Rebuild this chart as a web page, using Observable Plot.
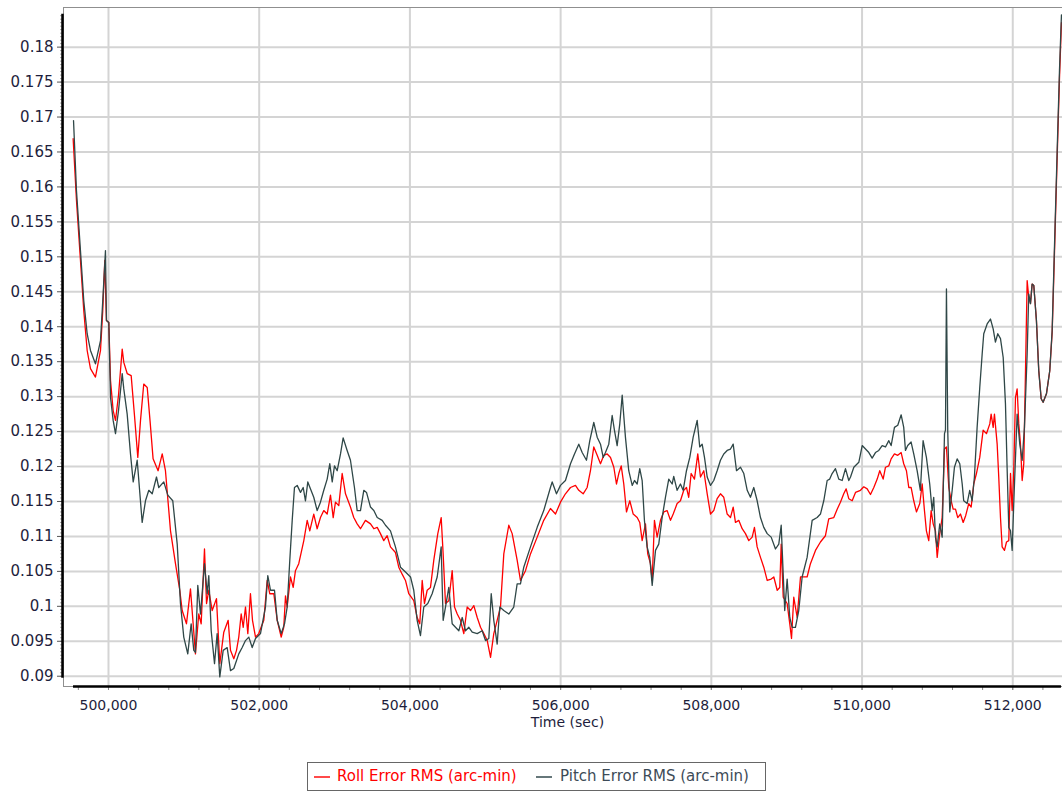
<!DOCTYPE html>
<html><head><meta charset="utf-8">
<script src="https://cdn.jsdelivr.net/npm/d3@7"></script>
<script src="https://cdn.jsdelivr.net/npm/@observablehq/plot@0.6"></script>
<style>
body{margin:0;background:#fff;font-family:"DejaVu Sans",sans-serif;}
#chart svg{display:block}
.legend{position:absolute;left:307px;top:762px;width:457px;height:27px;border:1.5px solid #666;font-size:15px;}
.legend .sw{position:absolute;top:13px;width:16px;height:2px;}
.legend .lb{position:absolute;top:4px;white-space:nowrap;}
</style></head><body>
<div id="chart"></div>
<div class="legend">
  <div class="sw" style="left:6px;background:#ff4a4a"></div><div class="lb" style="left:29px;color:#ff0000">Roll Error RMS (arc-min)</div>
  <div class="sw" style="left:228px;background:#66777a"></div><div class="lb" style="left:252px;color:#3d4b57">Pitch Error RMS (arc-min)</div>
</div>
<script>
const rollSeries = [[499531,0.1669],[499575,0.1581],[499628,0.1495],[499672,0.1423],[499717,0.1366],[499761,0.1340],[499827,0.1328],[499894,0.1366],[499924,0.1423],[499951,0.1495],[499973,0.1409],[500004,0.1406],[500027,0.1323],[500062,0.1280],[500093,0.1266],[500133,0.1302],[500182,0.1368],[500203,0.1349],[500248,0.1333],[500301,0.1330],[500345,0.1273],[500389,0.1213],[500425,0.1266],[500468,0.1318],[500514,0.1313],[500551,0.1266],[500592,0.1211],[500658,0.1194],[500713,0.1218],[500756,0.1194],[500823,0.1108],[500889,0.1061],[500946,0.1023],[500978,0.0994],[501035,0.0975],[501088,0.1025],[501154,0.0932],[501198,0.0989],[501230,0.0975],[501274,0.1082],[501301,0.1004],[501331,0.1023],[501376,0.0994],[501433,0.1011],[501477,0.0918],[501530,0.0963],[501588,0.0980],[501619,0.0937],[501663,0.0925],[501699,0.0937],[501729,0.0956],[501761,0.0989],[501788,0.0970],[501818,0.0999],[501849,0.0961],[501884,0.1018],[501911,0.0980],[501951,0.0956],[501994,0.0961],[502061,0.0980],[502106,0.1037],[502140,0.1018],[502194,0.1018],[502239,0.0980],[502292,0.0956],[502326,0.0970],[502349,0.1015],[502371,0.0999],[502415,0.1042],[502451,0.1027],[502481,0.1051],[502525,0.1061],[502592,0.1094],[502637,0.1123],[502671,0.1108],[502724,0.1132],[502769,0.1111],[502813,0.1127],[502857,0.1137],[502902,0.1132],[502946,0.1159],[502982,0.1127],[503012,0.1149],[503056,0.1144],[503101,0.1190],[503145,0.1161],[503211,0.1142],[503255,0.1127],[503300,0.1118],[503344,0.1111],[503410,0.1123],[503477,0.1118],[503521,0.1111],[503566,0.1113],[503609,0.1104],[503653,0.1094],[503698,0.1101],[503742,0.1085],[503808,0.1077],[503852,0.1056],[503897,0.1046],[503941,0.1037],[503985,0.1018],[504051,0.1008],[504096,0.0984],[504131,0.0975],[504163,0.1037],[504193,0.1004],[504229,0.1023],[504273,0.1027],[504317,0.1066],[504370,0.1104],[504415,0.1127],[504441,0.1075],[504472,0.1004],[504516,0.1008],[504561,0.1051],[504592,0.0999],[504628,0.0989],[504671,0.0980],[504715,0.0961],[504760,0.0999],[504804,0.0994],[504848,0.1001],[504893,0.0984],[504937,0.0970],[504981,0.0961],[505026,0.0951],[505070,0.0927],[505113,0.0961],[505158,0.0980],[505202,0.0999],[505246,0.1075],[505312,0.1116],[505357,0.1104],[505423,0.1066],[505467,0.1037],[505534,0.1051],[505600,0.1075],[505689,0.1099],[505776,0.1123],[505865,0.1140],[505932,0.1132],[505998,0.1149],[506064,0.1161],[506131,0.1170],[506197,0.1173],[506241,0.1166],[506299,0.1161],[506352,0.1170],[506396,0.1194],[506440,0.1228],[506485,0.1216],[506529,0.1204],[506573,0.1216],[506618,0.1218],[506662,0.1213],[506706,0.1199],[506741,0.1175],[506772,0.1190],[506804,0.1201],[506838,0.1175],[506874,0.1135],[506918,0.1151],[506963,0.1132],[507016,0.1127],[507050,0.1120],[507082,0.1094],[507126,0.1118],[507156,0.1075],[507192,0.1061],[507215,0.1037],[507245,0.1123],[507281,0.1099],[507325,0.1123],[507369,0.1135],[507413,0.1137],[507458,0.1123],[507494,0.1132],[507546,0.1147],[507590,0.1151],[507634,0.1166],[507670,0.1170],[507700,0.1156],[507732,0.1190],[507776,0.1182],[507820,0.1218],[507856,0.1185],[507900,0.1194],[507945,0.1161],[507989,0.1132],[508032,0.1137],[508077,0.1154],[508121,0.1161],[508165,0.1156],[508210,0.1132],[508254,0.1127],[508290,0.1142],[508320,0.1120],[508364,0.1123],[508409,0.1111],[508453,0.1104],[508497,0.1094],[508542,0.1099],[508572,0.1113],[508608,0.1085],[508652,0.1070],[508696,0.1056],[508741,0.1037],[508794,0.1039],[508829,0.1042],[508874,0.1023],[508908,0.1027],[508927,0.1089],[508954,0.1013],[509006,0.1004],[509041,0.0975],[509064,0.0954],[509094,0.1013],[509139,0.0984],[509183,0.1042],[509227,0.1042],[509271,0.1042],[509315,0.1061],[509382,0.1080],[509448,0.1092],[509514,0.1101],[509558,0.1125],[509625,0.1127],[509670,0.1139],[509713,0.1149],[509757,0.1161],[509789,0.1168],[509824,0.1154],[509869,0.1151],[509913,0.1163],[509979,0.1166],[510023,0.1171],[510068,0.1168],[510112,0.1160],[510156,0.1170],[510201,0.1182],[510235,0.1194],[510280,0.1182],[510311,0.1199],[510355,0.1201],[510386,0.1211],[510430,0.1218],[510474,0.1216],[510519,0.1220],[510553,0.1204],[510589,0.1194],[510620,0.1170],[510651,0.1170],[510686,0.1151],[510722,0.1135],[510766,0.1147],[510798,0.1175],[510828,0.1137],[510854,0.1108],[510885,0.1094],[510917,0.1137],[510944,0.1118],[510974,0.1108],[510997,0.1070],[511031,0.1104],[511063,0.1127],[511094,0.1225],[511120,0.1228],[511151,0.1170],[511183,0.1151],[511209,0.1139],[511240,0.1139],[511270,0.1127],[511306,0.1132],[511342,0.1120],[511376,0.1130],[511416,0.1147],[511448,0.1142],[511482,0.1175],[511518,0.1190],[511562,0.1213],[511607,0.1252],[511651,0.1247],[511695,0.1261],[511713,0.1275],[511740,0.1256],[511757,0.1275],[511793,0.1232],[511814,0.1185],[511837,0.1127],[511859,0.1085],[511890,0.1080],[511917,0.1092],[511947,0.1094],[511970,0.1190],[511992,0.1137],[512013,0.1194],[512036,0.1299],[512058,0.1311],[512080,0.1261],[512102,0.1232],[512125,0.1180],[512146,0.1204],[512169,0.1337],[512191,0.1466],[512212,0.1442],[512235,0.1433],[512257,0.1461],[512279,0.1459],[512314,0.1409],[512345,0.1337],[512377,0.1297],[512403,0.1292],[512447,0.1304],[512491,0.1337],[512523,0.1392],[512544,0.1469],[512590,0.1645],[512620,0.1755],[512646,0.1835]];

const pitchSeries = [[499536,0.1695],[499575,0.1595],[499628,0.1509],[499672,0.1437],[499717,0.1390],[499761,0.1366],[499827,0.1347],[499894,0.1380],[499924,0.1437],[499960,0.1509],[499973,0.1409],[500004,0.1406],[500027,0.1299],[500062,0.1266],[500093,0.1247],[500133,0.1280],[500182,0.1333],[500203,0.1311],[500248,0.1275],[500292,0.1218],[500328,0.1178],[500381,0.1209],[500447,0.1120],[500491,0.1151],[500535,0.1166],[500580,0.1161],[500637,0.1185],[500667,0.1170],[500734,0.1178],[500787,0.1159],[500853,0.1151],[500912,0.1089],[500955,0.1004],[500999,0.0956],[501052,0.0932],[501097,0.0975],[501132,0.0937],[501154,0.0934],[501185,0.1030],[501221,0.0989],[501274,0.1061],[501310,0.1018],[501331,0.1044],[501363,0.0965],[501407,0.0918],[501442,0.0961],[501477,0.0899],[501522,0.0937],[501575,0.0941],[501619,0.0908],[501663,0.0911],[501729,0.0932],[501774,0.0941],[501818,0.0951],[501862,0.0956],[501907,0.0941],[501951,0.0954],[502017,0.0961],[502083,0.0999],[502114,0.1044],[502150,0.1023],[502203,0.1023],[502239,0.0980],[502292,0.0961],[502336,0.0975],[502371,0.0999],[502406,0.1066],[502438,0.1123],[502468,0.1170],[502504,0.1173],[502548,0.1163],[502584,0.1170],[502614,0.1151],[502645,0.1178],[502681,0.1168],[502724,0.1156],[502769,0.1137],[502813,0.1149],[502857,0.1166],[502902,0.1182],[502937,0.1204],[502969,0.1178],[502999,0.1201],[503035,0.1194],[503079,0.1218],[503114,0.1241],[503167,0.1223],[503211,0.1209],[503264,0.1170],[503300,0.1137],[503344,0.1137],[503388,0.1166],[503424,0.1163],[503477,0.1142],[503521,0.1137],[503566,0.1127],[503632,0.1123],[503676,0.1116],[503742,0.1108],[503808,0.1085],[503875,0.1056],[503941,0.1049],[504008,0.1042],[504051,0.1023],[504096,0.0980],[504140,0.0958],[504184,0.0999],[504237,0.1004],[504295,0.1018],[504362,0.1042],[504415,0.1085],[504441,0.0980],[504472,0.0999],[504516,0.1027],[504561,0.0975],[504605,0.0970],[504649,0.0965],[504694,0.0984],[504738,0.0965],[504782,0.0970],[504827,0.0963],[504893,0.0961],[504959,0.0965],[505003,0.0951],[505047,0.0954],[505079,0.1018],[505113,0.0980],[505158,0.0946],[505193,0.0999],[505246,0.0994],[505312,0.0989],[505378,0.0999],[505423,0.1032],[505467,0.1032],[505511,0.1056],[505600,0.1085],[505689,0.1113],[505776,0.1137],[505865,0.1170],[505888,0.1178],[505945,0.1161],[505998,0.1173],[506064,0.1180],[506131,0.1204],[506184,0.1218],[506241,0.1232],[506286,0.1220],[506343,0.1209],[506387,0.1237],[506440,0.1263],[506485,0.1242],[506529,0.1232],[506565,0.1213],[506595,0.1220],[506639,0.1232],[506684,0.1273],[506714,0.1252],[506750,0.1230],[506785,0.1261],[506817,0.1302],[506860,0.1242],[506904,0.1194],[506950,0.1173],[506980,0.1180],[507016,0.1175],[507050,0.1197],[507082,0.1180],[507112,0.1123],[507148,0.1085],[507183,0.1070],[507215,0.1030],[507259,0.1080],[507302,0.1089],[507347,0.1127],[507391,0.1156],[507435,0.1182],[507480,0.1175],[507501,0.1186],[507546,0.1166],[507590,0.1175],[507626,0.1166],[507670,0.1194],[507714,0.1213],[507759,0.1242],[507812,0.1266],[507846,0.1228],[507878,0.1232],[507909,0.1213],[507945,0.1185],[507989,0.1173],[508032,0.1180],[508077,0.1194],[508121,0.1209],[508165,0.1218],[508210,0.1223],[508254,0.1225],[508290,0.1232],[508334,0.1194],[508387,0.1199],[508431,0.1190],[508476,0.1166],[508519,0.1156],[508563,0.1170],[508608,0.1151],[508652,0.1127],[508696,0.1113],[508741,0.1104],[508794,0.1099],[508851,0.1082],[508895,0.1089],[508927,0.1116],[508948,0.1061],[508974,0.0994],[509006,0.1039],[509041,0.0984],[509073,0.0970],[509116,0.0970],[509160,0.0994],[509205,0.1042],[509271,0.1070],[509338,0.1123],[509404,0.1127],[509448,0.1132],[509492,0.1151],[509537,0.1180],[509571,0.1182],[509603,0.1190],[509647,0.1197],[509691,0.1182],[509736,0.1180],[509780,0.1197],[509824,0.1180],[509847,0.1185],[509891,0.1199],[509957,0.1206],[510002,0.1230],[510046,0.1225],[510090,0.1220],[510134,0.1212],[510178,0.1220],[510222,0.1223],[510267,0.1230],[510311,0.1228],[510355,0.1237],[510386,0.1230],[510430,0.1256],[510474,0.1259],[510519,0.1274],[510553,0.1256],[510576,0.1223],[510606,0.1230],[510651,0.1235],[510686,0.1218],[510731,0.1194],[510774,0.1166],[510810,0.1237],[510854,0.1213],[510898,0.1175],[510930,0.1137],[510951,0.1156],[510974,0.1099],[510997,0.1085],[511031,0.1118],[511063,0.1099],[511094,0.1247],[511107,0.1252],[511120,0.1454],[511137,0.1252],[511164,0.1135],[511196,0.1166],[511226,0.1199],[511262,0.1211],[511297,0.1204],[511329,0.1175],[511349,0.1151],[511394,0.1147],[511429,0.1166],[511461,0.1151],[511491,0.1185],[511527,0.1256],[511562,0.1313],[511594,0.1361],[511615,0.1390],[511660,0.1404],[511704,0.1411],[511740,0.1397],[511770,0.1378],[511801,0.1390],[511837,0.1383],[511873,0.1356],[511903,0.1290],[511926,0.1194],[511947,0.1113],[511970,0.1108],[511992,0.1080],[512013,0.1147],[512058,0.1275],[512093,0.1232],[512125,0.1209],[512155,0.1256],[512191,0.1361],[512212,0.1447],[512235,0.1433],[512257,0.1461],[512279,0.1459],[512314,0.1409],[512345,0.1337],[512377,0.1297],[512403,0.1292],[512447,0.1304],[512491,0.1337],[512523,0.1395],[512544,0.1478],[512590,0.1655],[512620,0.1767],[512646,0.1846]];

const xMajor = [500000, 502000, 504000, 506000, 508000, 510000, 512000];
const xLabels = ["500,000", "502,000", "504,000", "506,000", "508,000", "510,000", "512,000"];
const yMajor = [0.09, 0.095, 0.1, 0.105, 0.11, 0.115, 0.12, 0.125, 0.13, 0.135, 0.14, 0.145, 0.15, 0.155, 0.16, 0.165, 0.17, 0.175, 0.18];
const yLabels = ["0.09", "0.095", "0.1", "0.105", "0.11", "0.115", "0.12", "0.125", "0.13", "0.135", "0.14", "0.145", "0.15", "0.155", "0.16", "0.165", "0.17", "0.175", "0.18"];
const xAxisRange = [499536, 512646];
const yAxisRange = [0.0897, 0.1847];
const xTitle = "Time (sec)";

const xDomain = [499403, 512660];
const yDomain = [0.08853, 0.18567];
const xMinor = d3.range(499600, 512401, 400);
const yMinor = d3.range(0, 190).map(i => +(0.09 + i * 0.0005).toFixed(4)).filter(v => v <= 0.1846);
const labelColor = "#1e1e3c";

const chart = Plot.plot({
  width: 1062, height: 745,
  marginLeft: 63, marginRight: 0, marginTop: 7, marginBottom: 59,
  x: {domain: xDomain, label: null},
  y: {domain: yDomain, label: null},
  style: {fontFamily: "DejaVu Sans", fontSize: "14px", color: labelColor, background: "#fff", overflow: "visible"},
  marks: [
    Plot.gridX(xMajor, {stroke: "#d4d4d4", strokeOpacity: 1, strokeWidth: 2}),
    Plot.gridY(yMajor, {stroke: "#d4d4d4", strokeOpacity: 1, strokeWidth: 2}),
    Plot.frame({stroke: "#8f8f8f"}),
    Plot.line(rollSeries, {x: d => d[0], y: d => d[1], stroke: "#ff0000", strokeWidth: 1.3}),
    Plot.line(pitchSeries, {x: d => d[0], y: d => d[1], stroke: "#2f4747", strokeWidth: 1.3}),
    // y axis: minor ticks, major ticks, labels, black axis line
    Plot.axisY(yMinor, {tickSize: 3, tickFormat: () => "", stroke: "#aaaaaa", label: null}),
    Plot.axisY(yMajor, {tickSize: 6, tickFormat: () => "", stroke: "#555", label: null}),
    Plot.text(yMajor, {y: d => d, x: xDomain[0], text: (d, i) => yLabels[i], textAnchor: "end", dx: -10, fontSize: 15, fontFamily: "DejaVu Sans", fill: labelColor}),
    Plot.ruleX([xDomain[0]], {y1: yAxisRange[0], y2: yAxisRange[1], stroke: "#000", strokeWidth: 2.5, dx: -1}),
    // x axis
    Plot.axisX(xMinor, {tickSize: 4, tickFormat: () => "", stroke: "#888", label: null}),
    Plot.axisX(xMajor, {tickSize: 4, tickPadding: 10, tickFormat: d => xLabels[xMajor.indexOf(d)], stroke: "#888", fill: labelColor, fontSize: 14, fontFamily: "DejaVu Sans", label: null}),
    Plot.ruleY([yDomain[0]], {x1: xAxisRange[0], x2: xAxisRange[1], stroke: "#000", strokeWidth: 2.5}),
    Plot.text([xTitle], {x: (xAxisRange[0] + xAxisRange[1]) / 2, frameAnchor: "bottom", dy: 36, lineAnchor: "middle", fontSize: 14, fontFamily: "DejaVu Sans", fill: labelColor, text: d => d})
  ]
});
document.getElementById("chart").append(chart);
</script>
</body></html>
